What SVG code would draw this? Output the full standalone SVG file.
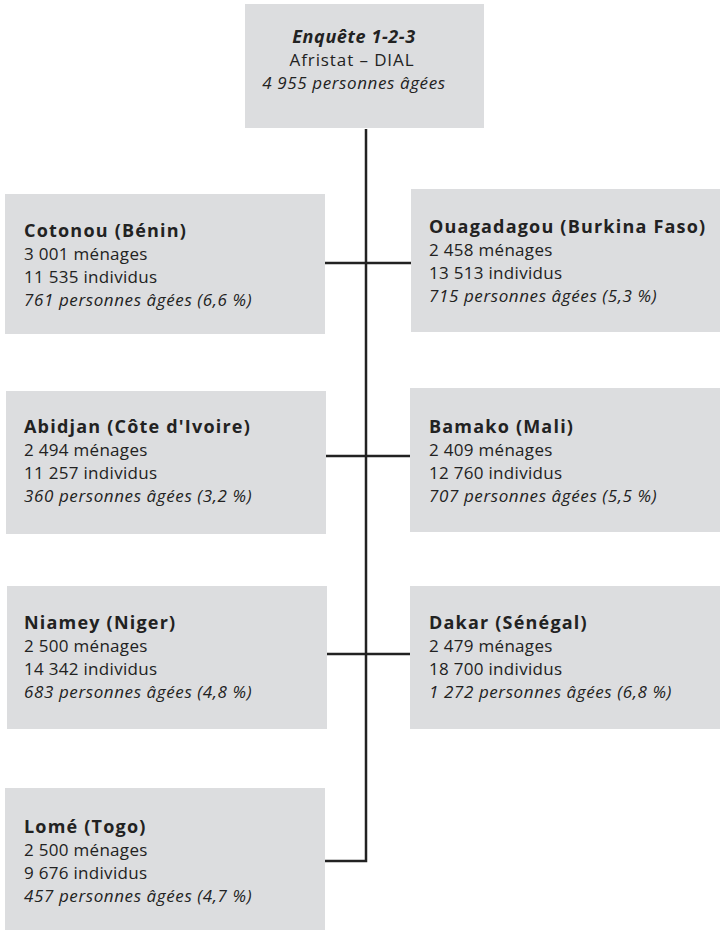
<svg xmlns="http://www.w3.org/2000/svg" width="722" height="930" viewBox="0 0 722 930">
<style>
.box{fill:#dcdddf}
.t{font-family:"Open Sans",Lato,"Liberation Sans",sans-serif;font-size:17px;fill:#222;letter-spacing:0.3px}
.b{font-weight:bold;font-size:18px;letter-spacing:1.2px}
.i{font-style:italic;letter-spacing:0.6px}
.c{text-anchor:middle}
.ln{stroke:#222;stroke-width:2.5;fill:none}
</style>
<rect width="722" height="930" fill="#fff"/>
<g id="connectors">
<path class="ln" d="M366,129 V861 H325"/>
<path class="ln" d="M325,263 H411"/>
<path class="ln" d="M326,456 H410"/>
<path class="ln" d="M327,654 H410"/>
</g>
<g id="top">
<rect class="box" x="245" y="4" width="239" height="124"/>
<text class="t b i c" x="354" y="43">Enquête 1-2-3</text>
<text class="t c" x="352" y="66" style="letter-spacing:0.9px">Afristat – DIAL</text>
<text class="t i c" x="354" y="89">4 955 personnes âgées</text>
</g>
<g id="cotonou">
<rect class="box" x="5" y="194" width="320" height="140"/>
<text class="t b" x="24" y="237">Cotonou (Bénin)</text>
<text class="t" x="24" y="260">3 001 ménages</text>
<text class="t" x="24" y="283">11 535 individus</text>
<text class="t i" x="24" y="306">761 personnes âgées (6,6 %)</text>
</g>
<g id="ouagadougou">
<rect class="box" x="411" y="189" width="309" height="143"/>
<text class="t b" x="429" y="233">Ouagadagou (Burkina Faso)</text>
<text class="t" x="429" y="256">2 458 ménages</text>
<text class="t" x="429" y="279">13 513 individus</text>
<text class="t i" x="429" y="302">715 personnes âgées (5,3 %)</text>
</g>
<g id="abidjan">
<rect class="box" x="6" y="391" width="320" height="143"/>
<text class="t b" x="24" y="433">Abidjan (Côte d'Ivoire)</text>
<text class="t" x="24" y="456">2 494 ménages</text>
<text class="t" x="24" y="479">11 257 individus</text>
<text class="t i" x="24" y="502">360 personnes âgées (3,2 %)</text>
</g>
<g id="bamako">
<rect class="box" x="410" y="388" width="310" height="144"/>
<text class="t b" x="429" y="433">Bamako (Mali)</text>
<text class="t" x="429" y="456">2 409 ménages</text>
<text class="t" x="429" y="479">12 760 individus</text>
<text class="t i" x="429" y="502">707 personnes âgées (5,5 %)</text>
</g>
<g id="niamey">
<rect class="box" x="7" y="586" width="320" height="143"/>
<text class="t b" x="24" y="629">Niamey (Niger)</text>
<text class="t" x="24" y="652">2 500 ménages</text>
<text class="t" x="24" y="675">14 342 individus</text>
<text class="t i" x="24" y="698">683 personnes âgées (4,8 %)</text>
</g>
<g id="dakar">
<rect class="box" x="410" y="586" width="310" height="143"/>
<text class="t b" x="429" y="629">Dakar (Sénégal)</text>
<text class="t" x="429" y="652">2 479 ménages</text>
<text class="t" x="429" y="675">18 700 individus</text>
<text class="t i" x="429" y="698">1 272 personnes âgées (6,8 %)</text>
</g>
<g id="lome">
<rect class="box" x="5" y="788" width="320" height="142"/>
<text class="t b" x="24" y="833">Lomé (Togo)</text>
<text class="t" x="24" y="856">2 500 ménages</text>
<text class="t" x="24" y="879">9 676 individus</text>
<text class="t i" x="24" y="902">457 personnes âgées (4,7 %)</text>
</g>
</svg>
